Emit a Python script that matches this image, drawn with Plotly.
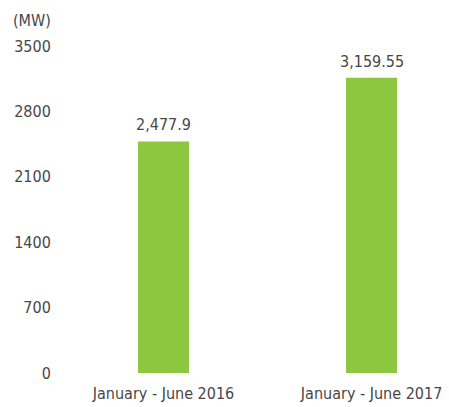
import plotly.graph_objects as go

categories = ["January - June 2016", "January - June 2017"]
values = [2477.9, 3159.55]
value_labels = ["2,477.9", "3,159.55"]
y_ticks = [0, 700, 1400, 2100, 2800, 3500]

font_family = "DejaVu Sans Condensed, Liberation Sans, Arial, sans-serif"
text_color = "#474747"
bar_color = "#8DC63F"
fsize = 16

fig = go.Figure(
    go.Bar(
        x=[0, 1],
        y=values,
        width=0.245,
        marker=dict(color=bar_color, line=dict(width=0)),
        hoverinfo="skip",
    )
)

annotations = [
    dict(
        x=xv,
        y=yv,
        xref="x",
        yref="y",
        text=lbl,
        showarrow=False,
        xanchor="center",
        yanchor="bottom",
        yshift=5,
        font=dict(family=font_family, size=fsize, color=text_color),
    )
    for xv, yv, lbl in zip([0, 1], values, value_labels)
]
annotations.append(
    dict(
        text="(MW)",
        xref="paper",
        yref="paper",
        x=0,
        y=1.0,
        xanchor="right",
        yanchor="bottom",
        xshift=-7,
        yshift=14,
        showarrow=False,
        font=dict(family=font_family, size=fsize, color=text_color),
    )
)

fig.update_layout(
    width=449,
    height=407,
    margin=dict(l=60, r=9, t=46, b=34, autoexpand=False),
    paper_bgcolor="white",
    plot_bgcolor="white",
    showlegend=False,
    font=dict(family=font_family, size=fsize, color=text_color),
    xaxis=dict(
        range=[-0.4976, 1.329],
        tickmode="array",
        tickvals=[0, 1],
        ticktext=categories,
        showgrid=False,
        zeroline=False,
        showline=False,
        ticks="outside",
        ticklen=6,
        tickcolor="rgba(0,0,0,0)",
        tickfont=dict(family=font_family, size=fsize, color=text_color),
        automargin=False,
        fixedrange=True,
    ),
    yaxis=dict(
        range=[0, 3500],
        tickmode="array",
        tickvals=y_ticks,
        ticktext=[str(v) for v in y_ticks],
        showgrid=False,
        zeroline=False,
        showline=False,
        ticks="outside",
        ticklen=5,
        tickcolor="rgba(0,0,0,0)",
        tickfont=dict(family=font_family, size=fsize, color=text_color),
        automargin=False,
        fixedrange=True,
    ),
    annotations=annotations,
)

fig.write_html(
    "out.html",
    config={"displayModeBar": False},
    post_script="document.body.style.margin='0';document.body.style.overflow='hidden';",
)
